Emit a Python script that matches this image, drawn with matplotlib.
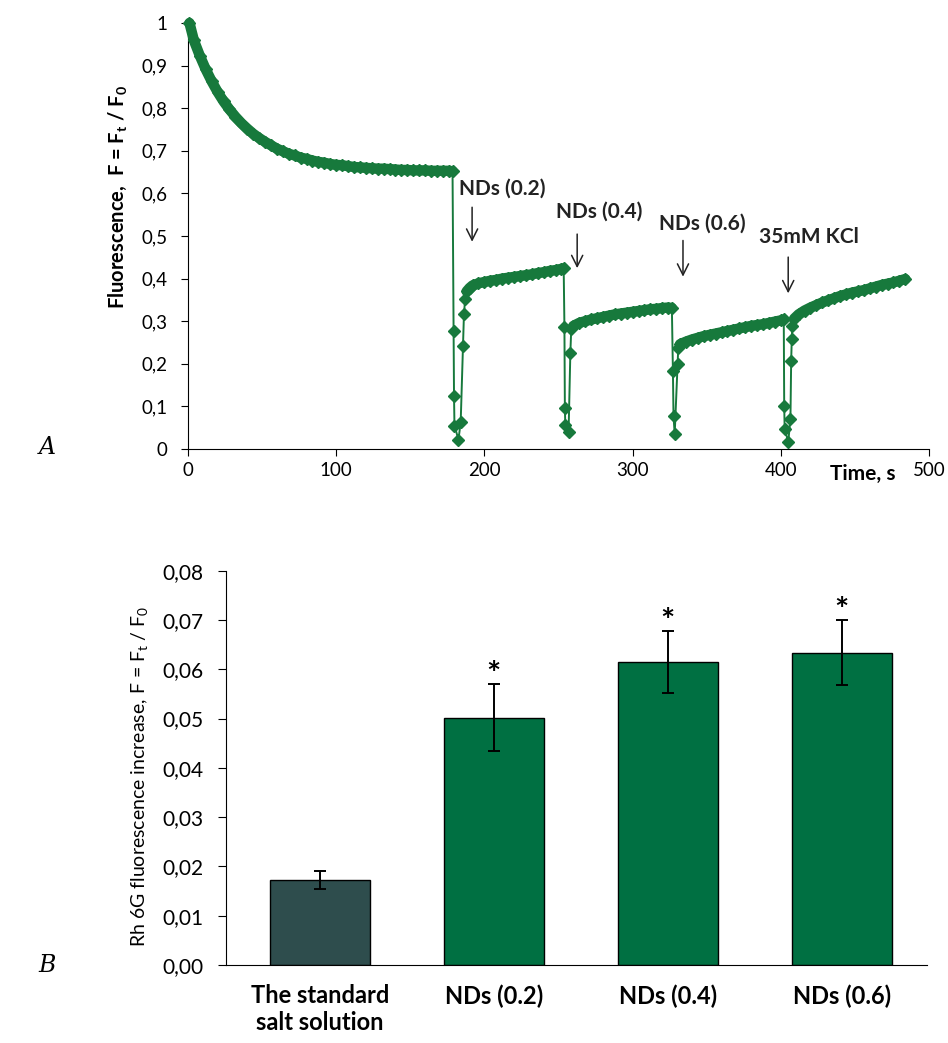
import matplotlib.pyplot as plt
import numpy as np

plt.rcParams['font.family'] = ['Lato', 'DejaVu Sans']
plt.rcParams['mathtext.fontset'] = 'custom'
plt.rcParams['mathtext.rm'] = 'Lato'
plt.rcParams['mathtext.it'] = 'Lato:italic'
plt.rcParams['mathtext.bf'] = 'Lato:bold'

# ---- Panel A: Rh 6G fluorescence trace, F = Ft/F0 vs time (s) ----
# resting decay before any addition
t_rest = [1, 4, 8, 12, 16, 20, 24, 28, 32, 36, 40, 44, 48, 52, 56, 60, 64, 68,
          72, 76, 80, 84, 88, 92, 96, 100, 104, 108, 112, 116, 120, 124, 128,
          132, 136, 140, 144, 148, 152, 156, 160, 164, 168, 172, 176, 178.5]
f_rest = [1.000, 0.959, 0.923, 0.891, 0.863, 0.838, 0.816, 0.797, 0.780,
          0.765, 0.752, 0.740, 0.730, 0.721, 0.713, 0.705, 0.699, 0.693,
          0.689, 0.684, 0.681, 0.677, 0.674, 0.672, 0.669, 0.667, 0.666,
          0.664, 0.662, 0.661, 0.660, 0.659, 0.658, 0.658, 0.657, 0.656,
          0.655, 0.655, 0.654, 0.654, 0.654, 0.653, 0.653, 0.653, 0.653, 0.652]

# addition artefacts (fast dips) and recovery phases
t_drop1 = [179.2, 179.5, 179.8, 182.5, 184.0, 185.6, 186.2, 187.0]
f_drop1 = [0.277, 0.125, 0.055, 0.022, 0.063, 0.242, 0.316, 0.352]
t_nd02 = [188, 190, 192, 196, 200, 204, 208, 212, 216, 220, 224, 228, 232,
          236, 240, 244, 248, 252, 253.5]
f_nd02 = [0.370, 0.378, 0.384, 0.389, 0.392, 0.395, 0.397, 0.400, 0.402,
          0.404, 0.406, 0.408, 0.410, 0.413, 0.415, 0.418, 0.420, 0.423, 0.424]

t_drop2 = [254.0, 254.3, 254.6, 256.8, 258.0, 258.6]
f_drop2 = [0.287, 0.096, 0.056, 0.040, 0.226, 0.281]
t_nd04 = [260, 264, 268, 272, 276, 280, 284, 288, 292, 296, 300, 304, 308,
          312, 316, 320, 324, 326.5]
f_nd04 = [0.289, 0.296, 0.300, 0.304, 0.307, 0.310, 0.313, 0.316, 0.318,
          0.320, 0.322, 0.324, 0.326, 0.328, 0.329, 0.331, 0.332, 0.331]

t_drop3 = [327.2, 327.6, 328.4, 330.3, 330.8]
f_drop3 = [0.183, 0.078, 0.035, 0.199, 0.236]
t_nd06 = [332, 336, 340, 344, 348, 352, 356, 360, 364, 368, 372, 376, 380,
          384, 388, 392, 396, 400, 402]
f_nd06 = [0.246, 0.252, 0.257, 0.261, 0.265, 0.268, 0.271, 0.274, 0.277,
          0.280, 0.283, 0.286, 0.289, 0.291, 0.293, 0.296, 0.299, 0.302, 0.304]

t_drop4 = [402.3, 402.6, 405.0, 406.5, 407.0, 407.4, 407.8]
f_drop4 = [0.101, 0.048, 0.016, 0.070, 0.207, 0.258, 0.289]
t_kcl = [409, 412, 416, 420, 424, 428, 432, 436, 440, 444, 448, 452, 456,
         460, 464, 468, 472, 476, 480, 484]
f_kcl = [0.306, 0.316, 0.325, 0.332, 0.338, 0.344, 0.349, 0.354, 0.359,
         0.363, 0.367, 0.370, 0.373, 0.377, 0.381, 0.385, 0.388, 0.391,
         0.395, 0.399]

events = ['NDs (0.2)', 'NDs (0.4)', 'NDs (0.6)', '35mM KCl']
event_t = [191.7, 262.6, 334, 405]

# ---- Panel B: fluorescence increase after addition ----
groups = ['The standard\nsalt solution', 'NDs (0.2)', 'NDs (0.4)', 'NDs (0.6)']
increase = [0.0172, 0.0502, 0.0614, 0.0634]
increase_err = [0.0018, 0.0068, 0.0063, 0.0065]
significant = [False, True, True, True]

trace_green = '#17793c'
bar_colors = ['#2e4d4d', '#007042', '#007042', '#007042']

fig = plt.figure(figsize=(9.48, 10.43), dpi=100)

# ---------------- A ----------------
ax = fig.add_axes([188 / 948, 1 - 449 / 1043, 741 / 948, 426 / 1043])

bands = [(t_rest, f_rest), (t_nd02, f_nd02), (t_nd04, f_nd04),
         (t_nd06, f_nd06), (t_kcl, f_kcl)]
drops = [(t_drop1, f_drop1), (t_drop2, f_drop2), (t_drop3, f_drop3),
         (t_drop4, f_drop4)]

t_all, f_all = list(bands[0][0]), list(bands[0][1])
for (td, fd), (tb, fb) in zip(drops, bands[1:]):
    t_all += td + tb
    f_all += fd + fb

ax.plot(t_all, f_all, color=trace_green, lw=1.4, marker='D', ms=6.5,
        mec=trace_green, clip_on=False, zorder=3)
for tb, fb in bands:
    ax.plot(tb, fb, color=trace_green, lw=7.5, solid_capstyle='round',
            solid_joinstyle='round', clip_on=False, zorder=4)

arrow_top = [0.574, 0.511, 0.496, 0.457]
arrow_tip = [0.480, 0.418, 0.398, 0.359]
label_x = [183.1, 248.6, 317.6, 385.1]
label_y = [0.610, 0.558, 0.530, 0.498]
for name, te, a0, a1, lx, ly in zip(events, event_t, arrow_top, arrow_tip,
                                    label_x, label_y):
    ax.annotate('', xy=(te, a1), xytext=(te, a0),
                arrowprops=dict(arrowstyle='->', color='#222222', lw=1.1,
                                mutation_scale=20))
    ax.text(lx, ly, name, ha='left', va='center', fontsize=15,
            fontweight='bold', color='#222222')

ax.set_xlim(0, 500)
ax.set_ylim(0, 1)
ax.set_xticks(np.arange(0, 501, 100))
ax.set_yticks(np.arange(0, 1.01, 0.1))
ax.set_yticklabels(['0'] + [f'0,{i}' for i in range(1, 10)] + ['1'])
ax.spines[['top', 'right']].set_visible(False)
ax.tick_params(axis='y', direction='out', length=5, pad=10, labelsize=13.5)
ax.tick_params(axis='x', direction='out', length=5, pad=4, labelsize=13.5)
ax.text(0.955, -0.059, 'Time, s', transform=ax.transAxes, ha='right',
        va='center', fontsize=15, fontweight='bold')
fig.text(118 / 948, 1 - 197 / 1043,
         r'Fluorescence,  F = F$_\mathbf{t}$ / F$_\mathbf{0}$',
         rotation=90, ha='center', va='center', fontsize=14.5, fontweight='bold')
fig.text(47 / 948, 1 - 447 / 1043, 'A', family='DejaVu Serif', style='italic',
         fontsize=17, ha='center', va='center')

# ---------------- B ----------------
bx = fig.add_axes([226 / 948, 1 - 965 / 1043, 701 / 948, 394.3 / 1043])
pos = np.arange(len(groups))
bx.bar(pos, increase, width=0.575, color=bar_colors, edgecolor='black',
       linewidth=1.0, zorder=2)
bx.errorbar(pos, increase, yerr=increase_err, fmt='none', ecolor='black',
            elinewidth=1.4, capsize=4.5, capthick=1.4, zorder=3)
for p, v, e, s in zip(pos, increase, increase_err, significant):
    if s:
        bx.annotate('*', xy=(p, v + e), xytext=(0, -4),
                    textcoords='offset points', ha='center', va='bottom',
                    fontsize=24, fontweight='bold')

bx.set_xlim(-0.54, 3.49)
bx.set_ylim(0, 0.08)
bx.set_xticks(pos)
bx.set_xticklabels(groups, fontsize=17, fontweight='bold')
bx.set_yticks(np.arange(0, 0.0801, 0.01))
bx.set_yticklabels([f'0,{i:02d}' for i in range(9)])
bx.spines[['top', 'right']].set_visible(False)
bx.tick_params(axis='y', direction='out', length=6, pad=10, labelsize=15)
bx.tick_params(axis='x', length=0, pad=14)
fig.text(140 / 948, 1 - 776 / 1043,
         r'Rh 6G fluorescence increase, F = F$_\mathrm{t}$ / F$_\mathrm{0}$',
         rotation=90, ha='center', va='center', fontsize=14)
fig.text(47 / 948, 1 - 966 / 1043, 'B', family='DejaVu Serif', style='italic',
         fontsize=17, ha='center', va='center')

fig.savefig('out.png', dpi=100)
